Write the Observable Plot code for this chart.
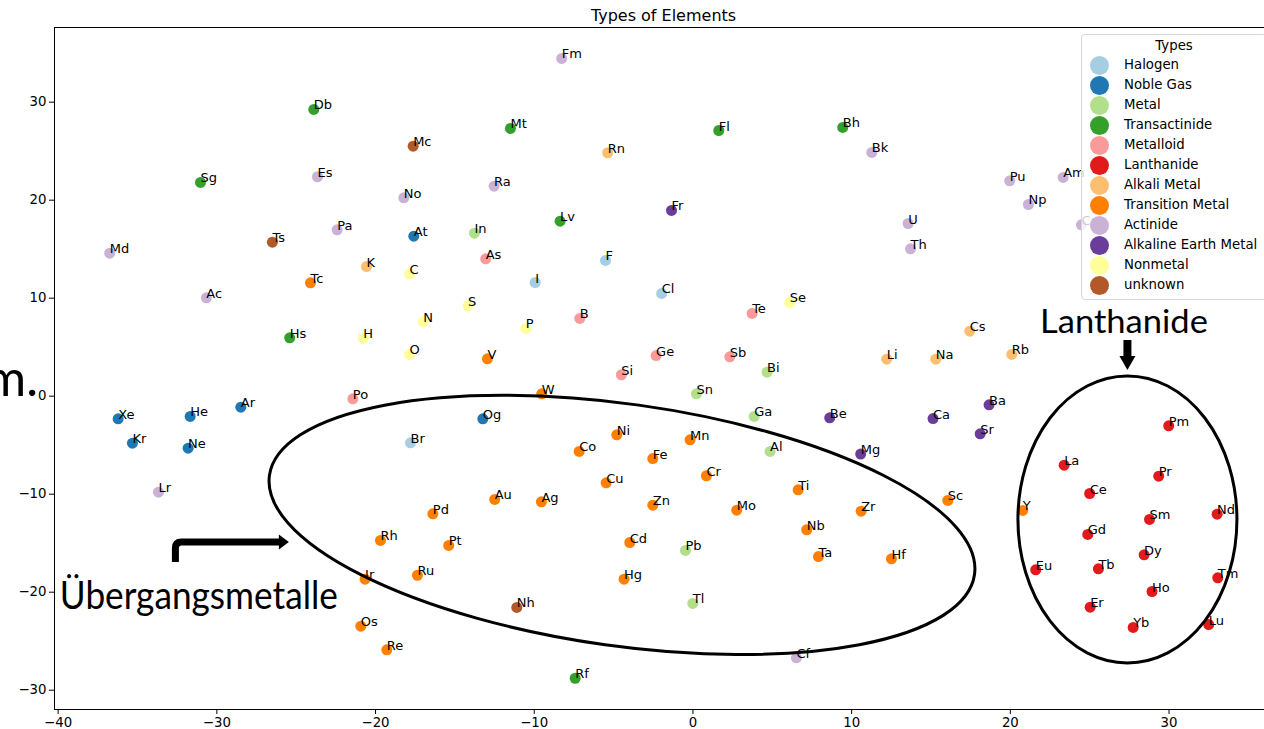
<!DOCTYPE html>
<html>
<head>
<meta charset="utf-8">
<script src="https://cdn.jsdelivr.net/npm/d3@7"></script>
<script src="https://cdn.jsdelivr.net/npm/@observablehq/plot@0.6"></script>
<style>
html, body { margin: 0; padding: 0; background: #fff; overflow: hidden; }
#wrap { position: relative; width: 1264px; height: 729px; overflow: hidden; }
#chart { position: absolute; left: 0; top: 0; width: 1280px; height: 729px; }
#chart svg { max-width: none !important; }
#legend { position: absolute; left: 1081px; top: 34px; width: 186px; height: 266px; box-sizing: border-box;
  border: 1px solid #d6d6d6; border-radius: 4px; background: rgba(255,255,255,0.8);
  font-family: "DejaVu Sans", sans-serif; font-size: 13.3px; color: #000; }
#legend .title { position: absolute; left: 0; width: 184px; top: 3px; text-align: center; }
#legend .row { position: absolute; left: 0; height: 20px; }
#legend .sw { position: absolute; left: 8px; width: 19px; height: 19px; border-radius: 50%; }
#legend .lb { position: absolute; left: 42px; white-space: nowrap; }
</style>
</head>
<body>
<div id="wrap"><div id="chart"></div><div id="legend"></div></div>
<script>
// ---- data ----
const typeNames = ["Halogen", "Noble Gas", "Metal", "Transactinide", "Metalloid", "Lanthanide",
  "Alkali Metal", "Transition Metal", "Actinide", "Alkaline Earth Metal", "Nonmetal", "unknown"];
const typeColors = ["#a6cee3", "#1f78b4", "#b2df8a", "#33a02c", "#fb9a99", "#e31a1c",
  "#fdbf6f", "#ff7f00", "#cab2d6", "#6a3d9a", "#ffff99", "#b15928"];

const symbols = ["Db","Mc","Sg","Es","No","Pa","Ts","At","Md","Fm","Mt","Fl","Rn","Ra","Fr","Lv","In","As","F",
  "Bh","Bk","Pu","Am","Np","U","Th","Cm","K","C","Tc","Ac","Hs","H","O","Po","Xe","He","Ar","Kr","Ne","Br","Lr",
  "N","S","I","Cl","P","B","Te","Se","V","Ge","Sb","Si","Bi","W","Sn","Og","Ga","Ni","Mn","Co","Fe","Al","Cr","Cu","Ti",
  "Cs","Li","Na","Rb","Ba","Be","Ca","Sr","Mg","Pm","La","Pr","Ce","Sc","Zr","Y","Nb","Sm","Nd","Gd",
  "Ta","Hf","Dy","Eu","Tb","Tm","Ho","Er","Yb","Lu","Cf",
  "Au","Ag","Pd","Zn","Mo","Pt","Cd","Pb","Ru","Hg","Tl","Nh","Rf","Rh","Ir","Os","Re"];
const xs = [-23.89,-17.63,-31.03,-23.66,-18.22,-22.42,-26.50,-17.59,-36.75,-8.27,-11.50,1.63,-5.37,-12.53,-1.35,-8.37,-13.77,-13.06,-5.51,
  9.44,11.27,19.96,23.33,21.14,13.56,13.71,24.48,-20.57,-17.86,-24.10,-30.66,-25.41,-20.78,-17.86,-21.43,-36.22,-31.68,-28.49,-35.32,-31.81,-17.80,-33.68,
  -17.00,-14.17,-9.94,-1.97,-10.53,-7.13,3.73,6.10,-12.95,-2.32,2.32,-4.51,4.67,-9.53,0.22,-13.24,3.86,-4.80,-0.18,-7.17,-2.53,4.86,0.85,-5.47,6.63,
  17.44,12.21,15.30,20.09,18.66,8.62,15.13,18.10,10.57,29.98,23.39,29.35,25.00,16.06,10.60,20.78,7.17,28.77,33.03,24.88,
  7.91,12.51,28.43,21.60,25.55,33.07,28.93,25.03,27.74,32.50,6.52,
  -12.49,-9.55,-16.39,-2.53,2.76,-15.39,-3.98,-0.47,-17.36,-4.34,-0.01,-11.10,-7.42,-19.69,-20.66,-20.93,-19.29];
const ys = [29.26,25.51,21.81,22.39,20.24,16.98,15.71,16.33,14.59,34.46,27.32,27.11,24.84,21.43,18.95,17.86,16.63,14.02,13.85,
  27.42,24.87,21.98,22.32,19.56,17.62,15.04,17.49,13.23,12.49,11.57,10.04,5.96,5.89,4.26,-0.27,-2.31,-2.07,-1.12,-4.79,-5.31,-4.76,-9.80,
  7.59,9.22,11.60,10.48,6.91,7.93,8.44,9.56,3.81,4.15,4.02,2.18,2.45,0.24,0.24,-2.31,-2.07,-3.94,-4.45,-5.64,-6.36,-5.64,-8.12,-8.84,-9.55,
  6.63,3.78,3.78,4.26,-0.88,-2.21,-2.28,-3.84,-5.91,-3.02,-7.04,-8.16,-9.93,-10.64,-11.73,-11.66,-13.63,-12.58,-12.04,-14.11,
  -16.36,-16.60,-16.19,-17.72,-17.62,-18.53,-19.93,-21.53,-23.60,-23.30,-26.70,
  -10.54,-10.78,-12.00,-11.12,-11.63,-15.23,-14.93,-15.74,-18.27,-18.67,-21.15,-21.56,-28.78,-14.72,-18.67,-23.47,-25.88];
const types = ["Transactinide","unknown","Transactinide","Actinide","Actinide","Actinide","unknown","Noble Gas","Actinide","Actinide","Transactinide","Transactinide","Alkali Metal","Actinide","Alkaline Earth Metal","Transactinide","Metal","Metalloid","Halogen",
  "Transactinide","Actinide","Actinide","Actinide","Actinide","Actinide","Actinide","Actinide","Alkali Metal","Nonmetal","Transition Metal","Actinide","Transactinide","Nonmetal","Nonmetal","Metalloid","Noble Gas","Noble Gas","Noble Gas","Noble Gas","Noble Gas","Halogen","Actinide",
  "Nonmetal","Nonmetal","Halogen","Halogen","Nonmetal","Metalloid","Metalloid","Nonmetal","Transition Metal","Metalloid","Metalloid","Metalloid","Metal","Transition Metal","Metal","Noble Gas","Metal","Transition Metal","Transition Metal","Transition Metal","Transition Metal","Metal","Transition Metal","Transition Metal","Transition Metal",
  "Alkali Metal","Alkali Metal","Alkali Metal","Alkali Metal","Alkaline Earth Metal","Alkaline Earth Metal","Alkaline Earth Metal","Alkaline Earth Metal","Alkaline Earth Metal","Lanthanide","Lanthanide","Lanthanide","Lanthanide","Transition Metal","Transition Metal","Transition Metal","Transition Metal","Lanthanide","Lanthanide","Lanthanide",
  "Transition Metal","Transition Metal","Lanthanide","Lanthanide","Lanthanide","Lanthanide","Lanthanide","Lanthanide","Lanthanide","Lanthanide","Actinide",
  "Transition Metal","Transition Metal","Transition Metal","Transition Metal","Transition Metal","Transition Metal","Transition Metal","Metal","Transition Metal","Transition Metal","Metal","unknown","Transactinide","Transition Metal","Transition Metal","Transition Metal","Transition Metal"];

const xTicks = [-40, -30, -20, -10, 0, 10, 20, 30];
const yTicks = [-30, -20, -10, 0, 10, 20, 30];
const chartTitle = "Types of Elements";
const legendTitle = "Types";

// ---- table ----
const table = symbols.map((s, i) => ({symbol: s, x: xs[i], y: ys[i], type: types[i]}));

// ---- annotations (drawn with the plot's scales) ----
function annotations(index, scales) {
  const X = scales.x, Y = scales.y;
  const g = d3.create("svg:g").attr("fill", "none");
  // transition-metal ellipse (tilted)
  const c1x = X(-4.44), c1y = Y(-13.19);
  g.append("ellipse").attr("cx", c1x).attr("cy", c1y).attr("rx", 356).attr("ry", 121)
    .attr("transform", `rotate(8 ${c1x} ${c1y})`).attr("stroke", "#000").attr("stroke-width", 3);
  // lanthanide ellipse
  g.append("ellipse").attr("cx", X(27.41)).attr("cy", Y(-12.63)).attr("rx", 109.5).attr("ry", 143.5)
    .attr("stroke", "#000").attr("stroke-width", 3);
  // lanthanide down arrow
  const ax = X(27.41), ay0 = Y(5.68), ay1 = Y(2.62);
  g.append("line").attr("x1", ax).attr("x2", ax).attr("y1", ay0).attr("y2", ay1 - 13)
    .attr("stroke", "#000").attr("stroke-width", 8);
  g.append("path").attr("d", `M${ax - 8},${ay1 - 14}L${ax + 8},${ay1 - 14}L${ax},${ay1}Z`).attr("fill", "#000");
  // bent arrow
  const bx = X(-32.58), by0 = Y(-16.97), by1 = Y(-14.93), bx1 = X(-25.43);
  g.append("path").attr("d", `M${bx},${by0}V${by1 + 6}Q${bx},${by1} ${bx + 6},${by1}H${bx1 - 9}`)
    .attr("stroke", "#000").attr("stroke-width", 7);
  g.append("path").attr("d", `M${bx1 - 10},${by1 - 7.5}L${bx1},${by1}L${bx1 - 10},${by1 + 7.5}Z`).attr("fill", "#000");
  // texts
  const t = g.append("g").attr("fill", "#000").attr("font-family", "Lato, 'Open Sans', sans-serif");
  t.append("text").attr("x", X(-39.86)).attr("y", Y(-21.77)).attr("font-size", 38).attr("text-anchor", "start")
    .attr("textLength", 278).attr("lengthAdjust", "spacingAndGlyphs").text("Übergangsmetalle");
  t.append("text").attr("x", X(21.9)).attr("y", Y(6.4)).attr("font-size", 32).attr("text-anchor", "start")
    .attr("textLength", 168).attr("lengthAdjust", "spacingAndGlyphs").text("Lanthanide");
  t.append("text").attr("x", X(-41.24)).attr("y", Y(-0.03)).attr("font-size", 50)
    .attr("text-anchor", "end").text("m.");
  return g.node();
}

const plot = Plot.plot({
  width: 1280,
  height: 729,
  marginLeft: 54,
  marginRight: 8,
  marginTop: 27,
  marginBottom: 20,
  style: {fontFamily: "DejaVu Sans, sans-serif", fontSize: "13.3px", color: "#000", background: "transparent", overflow: "visible", maxWidth: "none"},
  x: {domain: [-40.23, 36.52], ticks: xTicks, tickSize: 5, tickPadding: 3, label: null},
  y: {domain: [-31.97, 37.62], ticks: yTicks, tickSize: 5, tickPadding: 3, label: null},
  color: {domain: typeNames, range: typeColors},
  marks: [
    Plot.frame({stroke: "#000", strokeWidth: 1}),
    Plot.dot(table, {x: "x", y: "y", fill: "type", r: 5.5, stroke: "none"}),
    Plot.text(table, {x: "x", y: "y", text: "symbol", textAnchor: "start", lineAnchor: "bottom", fontSize: 13, fill: "#000"}),
    annotations,
    Plot.text([chartTitle], {frameAnchor: "top", lineAnchor: "bottom", dy: -7, fontSize: 16, fill: "#000"})
  ]
});
plot.style.maxWidth = "none";
document.getElementById("chart").appendChild(plot);

// ---- legend ----
const lg = d3.select("#legend");
lg.append("div").attr("class", "title").text(legendTitle);
typeNames.forEach((name, i) => {
  const row = lg.append("div").attr("class", "row").style("top", (21 + 20 * i) + "px").style("width", "184px");
  row.append("div").attr("class", "sw").style("top", "0px").style("background", typeColors[i]);
  row.append("div").attr("class", "lb").style("top", "1px").text(name);
});
</script>
</body>
</html>
